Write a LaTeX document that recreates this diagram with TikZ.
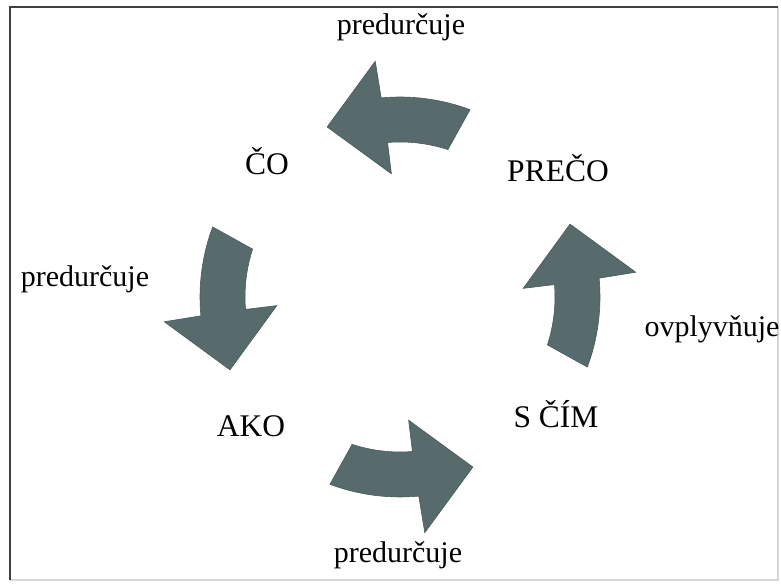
\documentclass[tikz,border=0pt]{standalone}
\usepackage{fontspec}
\setmainfont{Liberation Serif}
\usetikzlibrary{positioning}
\definecolor{arrowslate}{HTML}{576B6D}
\definecolor{framegray}{HTML}{404040}
\definecolor{framelight}{HTML}{D6D6D6}

\begin{document}
\begin{tikzpicture}[x=0.5pt, y=0.5pt,
  stage/.style={anchor=base, font=\fontsize{15.75}{19}\selectfont},
  verb/.style={anchor=base, font=\fontsize{15}{18}\selectfont},
  cyclearrow/.pic={\filldraw[fill=arrowslate, draw=arrowslate!85!black, line width=0.3pt]
    (69.5:200) arc[start angle=69.5, end angle=95.4, radius=200] -- (96:237) -- (113.2:185)
    -- (94:123.5) -- (94.6:155) arc[start angle=94.6, end angle=72, radius=155] -- cycle;}
]
\useasboundingbox (0,0) rectangle (781,587);
% frame
\draw[framelight, line width=0.6pt] (778,580) -- (778,7) -- (10,7);
\draw[framegray, line width=1pt] (10,7) -- (10,580) -- (778,580);
% four bent arrows of the cycle
\begin{scope}[shift={(400,290)}, xscale=1.07]
  \pic at (0,0) {cyclearrow};
  \pic[rotate=90] at (0,0) {cyclearrow};
  \pic[rotate=180] at (0,0) {cyclearrow};
  \pic[rotate=270] at (0,0) {cyclearrow};
\end{scope}
\node[verb] (pred1) at (401,552) {predurčuje};
\node[stage] (co) at (267,412) {ČO};
\node[stage] (preco) at (558,405) {PREČO};
\node[verb] (pred2) at (85,300) {predurčuje};
\node[verb] (ovpl) at (712,250) {ovplyvňuje};
\node[stage] (ako) at (251,150) {AKO};
\node[stage] (scim) at (556,159) {S ČÍM};
\node[verb] (pred3) at (398,24) {predurčuje};
\end{tikzpicture}
\end{document}
